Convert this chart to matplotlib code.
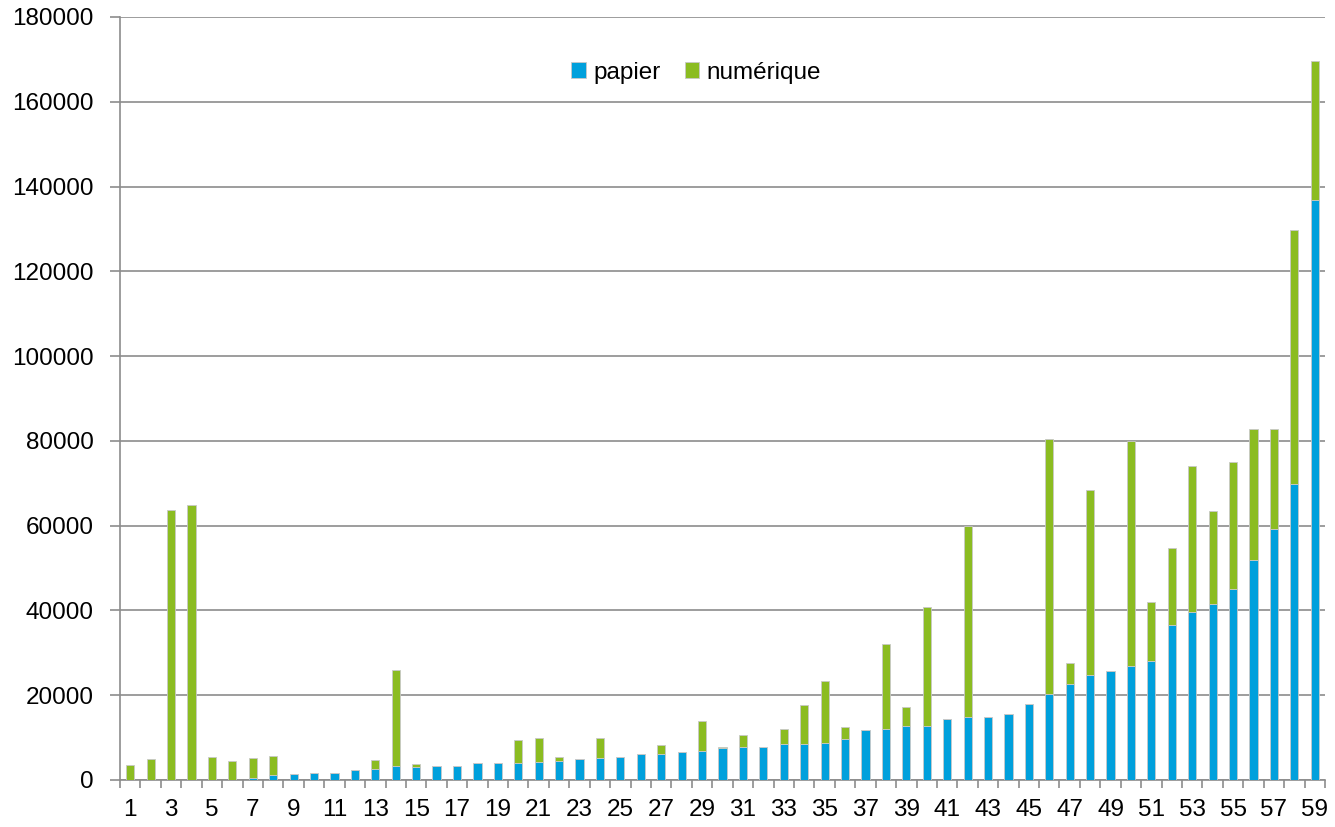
import numpy as np
import matplotlib
matplotlib.use("Agg")
from matplotlib import pyplot as plt

plt.rcParams['font.family'] = ['Liberation Sans', 'DejaVu Sans']

# categories 1..59
categories = list(range(1, 60))

papier = [0, 0, 0, 0, 0, 0, 500, 1150, 1400, 1700,
          1700, 2350, 2650, 3300, 3100, 3400, 3400, 4000, 4000, 4000,
          4250, 4550, 4850, 5150, 5500, 6100, 6100, 6650, 6950, 7600,
          7850, 7850, 8500, 8500, 8800, 9650, 11800, 12100, 12700, 12700,
          14500, 14850, 14850, 15500, 17900, 20200, 22700, 24750, 25600, 26950,
          28050, 36550, 39700, 41450, 45050, 51950, 59200, 69800, 136800]

total = [3500, 5000, 63800, 64900, 5400, 4450, 5100, 5600, 1400, 1700,
         1700, 2350, 4700, 26000, 3700, 3400, 3400, 4000, 4000, 9400,
         9950, 5500, 4850, 9950, 5500, 6100, 8300, 6650, 13900, 7900,
         10600, 7850, 12100, 17600, 23350, 12400, 11800, 32000, 17200, 40800,
         14500, 59900, 14850, 15500, 17900, 80400, 27500, 68400, 25600, 79900,
         42000, 54700, 74050, 63450, 75000, 82800, 82800, 129700, 169600]

numerique = [t - p for t, p in zip(total, papier)]

y_ticks = [0, 20000, 40000, 60000, 80000, 100000, 120000, 140000, 160000, 180000]

BLUE = "#00A0DC"
GREEN = "#8BBC21"
GRAY = "#8c8c8c"

fig = plt.figure(figsize=(13.35, 8.27), dpi=100)
ax = fig.add_axes([120 / 1335, 1 - 780 / 827, 1205 / 1335, 763 / 827])

x = np.arange(len(categories))
ax.bar(x, papier, width=0.4, color=BLUE, edgecolor="#c8c8c8", linewidth=0.6,
       label="papier", zorder=3)
ax.bar(x, numerique, width=0.4, bottom=papier, color=GREEN, edgecolor="#c8c8c8",
       linewidth=0.6, label="numérique", zorder=3)

ax.set_xlim(-0.5, len(categories) - 0.5)
ax.set_ylim(0, 180000)
ax.set_yticks(y_ticks)
ax.set_yticklabels([str(v) for v in y_ticks])
ax.yaxis.grid(True, color=GRAY, linewidth=1.2, zorder=0)

# labels on odd categories, tick marks at category boundaries
ax.set_xticks(x[::2])
ax.set_xticklabels([str(c) for c in categories[::2]])
ax.set_xticks(np.arange(len(categories) + 1) - 0.5, minor=True)
ax.tick_params(axis="x", which="major", length=0, pad=14, labelsize=17.5)
ax.tick_params(axis="x", which="minor", length=6, width=1.2, color=GRAY)
ax.tick_params(axis="y", length=7, width=1.2, color=GRAY, pad=12, labelsize=17.5)

for side in ["top", "right"]:
    ax.spines[side].set_visible(False)
for side in ["left", "bottom"]:
    ax.spines[side].set_color(GRAY)
    ax.spines[side].set_linewidth(1.2)

ax.legend(loc="center", bbox_to_anchor=(0.478, 0.927), ncol=2, frameon=False,
          fontsize=17.5, handlelength=0.6, handleheight=0.6, handletextpad=0.3,
          columnspacing=1.0)

plt.savefig("out.png", dpi=100)
plt.close()
